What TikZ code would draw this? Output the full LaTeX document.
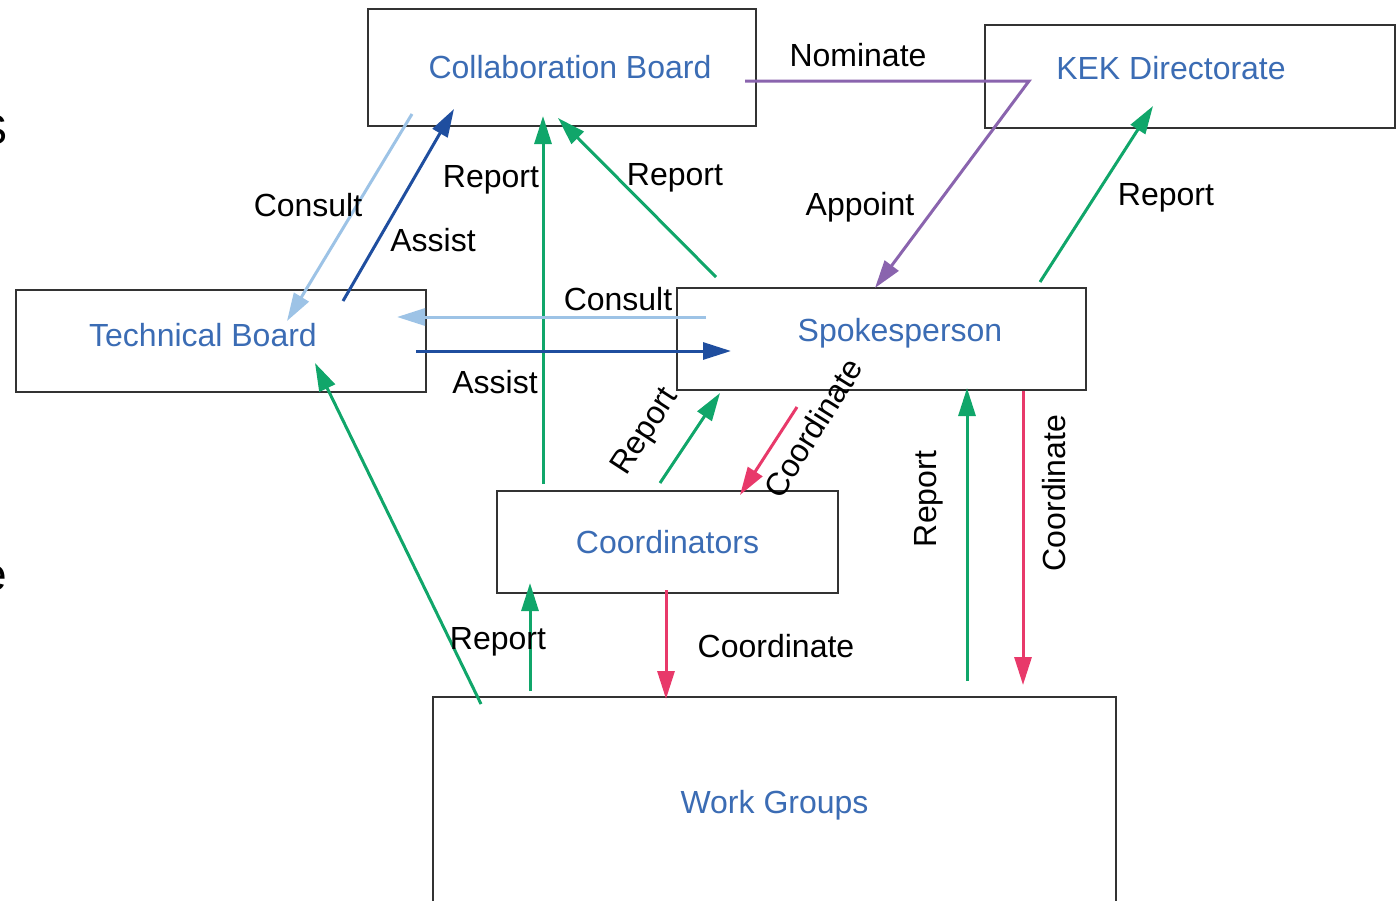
\documentclass[tikz,border=0pt]{standalone}
\usepackage{fontspec}
\setmainfont{Liberation Sans}
\usetikzlibrary{arrows.meta}

\definecolor{boxline}{HTML}{333333}
\definecolor{boxtext}{HTML}{3B6CB4}
\definecolor{consultcol}{HTML}{9DC3E6}
\definecolor{assistcol}{HTML}{1F4E9F}
\definecolor{reportcol}{HTML}{10A66A}
\definecolor{coordcol}{HTML}{E8396A}
\definecolor{appointcol}{HTML}{8A64AE}

\tikzset{
  box/.style={draw=boxline, line width=1pt, text=boxtext, inner sep=0pt},
  boxtitle/.style={text=boxtext, inner sep=0pt},
  lbl/.style={inner sep=0pt},
  rel/.style={line width=1.5pt, -{Triangle[length=14pt,width=8.5pt]}},
  consult/.style={rel, draw=consultcol},
  assist/.style={rel, draw=assistcol},
  report/.style={rel, draw=reportcol},
  coordinate-rel/.style={rel, draw=coordcol},
  appoint/.style={rel, draw=appointcol}
}

\begin{document}
\begin{tikzpicture}[x=0.5pt, y=-0.5pt, font=\fontsize{16}{19}\selectfont]
\useasboundingbox (0,0) rectangle (1400,900);

\node [lbl, anchor=east, font=\fontsize{21}{25}\selectfont] (cutS) at (8,130) {S};
\node [lbl, anchor=east, font=\fontsize{23}{27}\selectfont] (cutE) at (7,578) {e};

\node [box, minimum width=194pt, minimum height=58.5pt,
       label={[boxtitle, shift={(8,0)}]center:Collaboration Board}] (collab) at (562,67.5) {};
\node [box, minimum width=205pt, minimum height=51.5pt,
       label={[boxtitle, shift={(-19,-8.5)}]center:KEK Directorate}] (kek) at (1190,76.5) {};
\node [box, minimum width=205pt, minimum height=51pt,
       label={[boxtitle, shift={(-18,-6)}]center:Technical Board}] (tech) at (221,341) {};
\node [box, minimum width=204.5pt, minimum height=51pt,
       label={[boxtitle, shift={(18.5,-6)}]center:Spokesperson}] (spokes) at (881.5,339) {};
\node [box, minimum width=170.5pt, minimum height=51pt] (coord) at (667.5,542) {Coordinators};
\node [box, minimum width=341.5pt, minimum height=108pt] (wg) at (774.5,805) {Work Groups};

\draw [consult] ([shift={(-150,-13)}]collab.south) -- ([shift={(66,32)}]tech.north);
\draw [assist] ([shift={(122,12)}]tech.north) -- ([shift={(-108,-18)}]collab.south);
\draw [report] ([shift={(-124.5,-6)}]coord.north) -- ([shift={(-19,-11)}]collab.south);
\draw [report] ([shift={(-165.5,-10)}]spokes.north) -- ([shift={(-4,-9)}]collab.south);

\draw [appoint] ([shift={(-12,13.5)}]collab.east) -- ([shift={(45,4.5)}]kek.west) -- ([shift={(-6.5,1)}]spokes.north);
\draw [report] ([shift={(158.5,-5)}]spokes.north) -- ([shift={(-37,-23)}]kek.south);

\draw [consult] ([shift={(30,-22)}]spokes.west) -- ([shift={(-30,-24)}]tech.east);
\draw [assist] ([shift={(-11,10)}]tech.east) -- ([shift={(55,12)}]spokes.west);

\draw [report] ([shift={(-7.5,-7)}]coord.north) -- ([shift={(-161.5,2)}]spokes.south);
\draw [coordinate-rel] ([shift={(-84.5,16)}]spokes.south) -- ([shift={(72.5,5)}]coord.north);
\draw [report] ([shift={(192.5,-15)}]wg.north) -- ([shift={(85.5,-3)}]spokes.south);
\draw [coordinate-rel] ([shift={(141.5,0)}]spokes.south) -- ([shift={(248.5,-11)}]wg.north);

\draw [report] ([shift={(-293.5,8)}]wg.north) -- ([shift={(94,-30)}]tech.south);
\draw [report] ([shift={(-244.5,-5)}]wg.north) -- ([shift={(-137.5,-11)}]coord.south);
\draw [coordinate-rel] ([shift={(-1.5,-4)}]coord.south) -- ([shift={(-108.5,3)}]wg.north);

\node [lbl] (consultTB) at (308,205) {Consult};
\node [lbl] (assistTB) at (433,240) {Assist};
\node [lbl] (reportCO) at (491,180) {Report};
\node [lbl] (reportSP) at (675,178) {Report};
\node [lbl] (nominate) at (858,55) {Nominate};
\node [lbl] (appoint) at (860,207) {Appoint};
\node [lbl] (reportKEK) at (1166,198) {Report};
\node [lbl] (consultSP) at (618,299) {Consult};
\node [lbl] (assistSP) at (495,382) {Assist};
\node [lbl, rotate=57] (reportCS) at (646,432) {Report};
\node [lbl, rotate=58] (coordSC) at (813,428) {Coordinate};
\node [lbl, rotate=90] (reportWS) at (929,499) {Report};
\node [lbl, rotate=90] (coordSW) at (1054,493) {Coordinate};
\node [lbl] (reportWT) at (498,642) {Report};
\node [lbl] (coordCW) at (776,646) {Coordinate};

\end{tikzpicture}
\end{document}
